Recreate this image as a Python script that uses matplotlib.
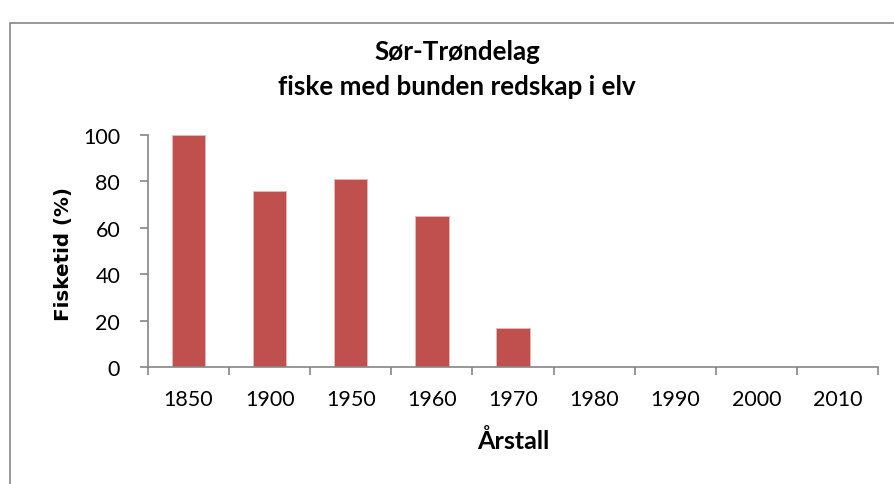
import matplotlib
matplotlib.use("Agg")
import matplotlib.pyplot as plt
from matplotlib.patches import Rectangle
import numpy as np

categories = ["1850", "1900", "1950", "1960", "1970", "1980", "1990", "2000", "2010"]
values = [100, 76, 81, 65, 17, 0, 0, 0, 0]
yticks = [0, 20, 40, 60, 80, 100]
title = "Sør-Trøndelag\nfiske med bunden redskap i elv"
xlabel = "Årstall"
ylabel = "Fisketid (%)"

W, H = 894, 485
fig = plt.figure(figsize=(W / 100, H / 100), dpi=100)
fig.patch.set_facecolor("white")

# outer chart border
fig.patches.append(Rectangle((10 / W, -0.1), 1.2, (H - 24) / H + 0.1,
                             transform=fig.transFigure, fill=False,
                             edgecolor="#888888", linewidth=1.2))

ax = fig.add_axes([148 / W, (H - 368) / H, (878 - 148) / W, (368 - 136) / H])
x = np.arange(len(categories))
ax.bar(x, values, width=0.41, color="#C0504D", edgecolor="#E6B9B8", linewidth=0.6)
ax.set_xlim(-0.5, len(categories) - 0.5)
ax.set_ylim(0, 100)
ax.set_yticks(yticks)
ax.set_yticklabels([str(v) for v in yticks])
ax.set_xticks(x)
ax.set_xticklabels(categories)
ax.set_xticks(np.arange(-0.5, len(categories)), minor=True)
ax.tick_params(axis="x", which="major", length=0, pad=16)
ax.tick_params(axis="x", which="minor", length=6, color="#868686", width=1.2)
ax.tick_params(axis="y", length=6, color="#868686", width=1.2, pad=14)
for lbl in ax.get_xticklabels() + ax.get_yticklabels():
    lbl.set_fontfamily("Lato")
    lbl.set_fontsize(15.5)
for s in ["top", "right"]:
    ax.spines[s].set_visible(False)
for s in ["left", "bottom"]:
    ax.spines[s].set_color("#868686")
    ax.spines[s].set_linewidth(1.2)

fig.text(457 / W, 1 - 70 / H, title, ha="center", va="center", fontsize=18.7,
         fontweight="bold", family="Lato", linespacing=1.55)
fig.text(513 / W, 1 - 441 / H, xlabel, ha="center", va="center", fontsize=18,
         fontweight="bold", family="Lato")
fig.text(64 / W, 1 - 254 / H, ylabel, ha="center", va="center", fontsize=14.3,
         fontweight="bold", family="DejaVu Sans", rotation=90)

fig.savefig("out.png", dpi=100)
